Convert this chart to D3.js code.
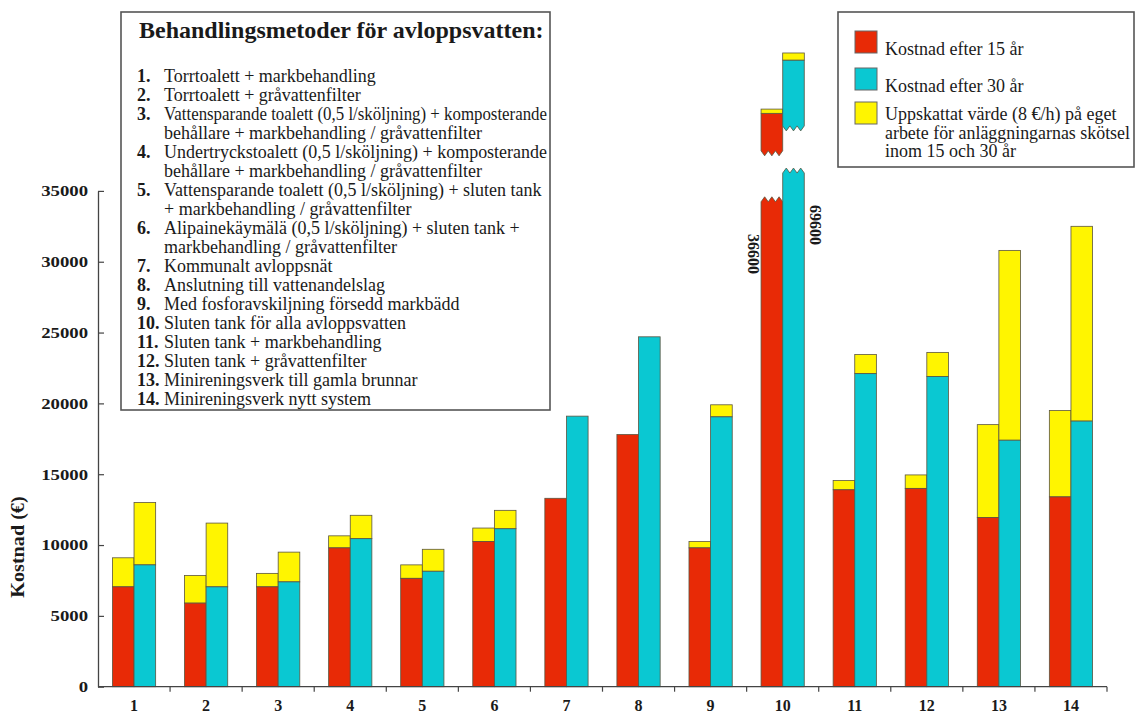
<!DOCTYPE html>
<html><head><meta charset="utf-8">
<script src="https://cdn.jsdelivr.net/npm/d3@7"></script>
<style>
html,body{margin:0;padding:0;background:#fff;}
svg{display:block;}
text{font-family:"Liberation Serif","Times New Roman",serif;fill:#1a1a1a;}
</style></head>
<body>
<svg id="chart" width="1136" height="713"></svg>
<script>
// ---------- data ----------
const categories = ["1","2","3","4","5","6","7","8","9","10","11","12","13","14"];
const cost15 = [7050,5900,7050,9800,7650,10250,13300,17800,9800,36600,13900,14000,11950,13400];
const work15 = [2050,1950,950,850,950,950,0,0,450,300,650,950,6550,6100];
const cost30 = [8600,7050,7400,10450,8150,11150,19100,24700,19050,69600,22100,21900,17400,18750];
const work30 = [4400,4500,2100,1650,1550,1300,0,0,850,500,1350,1700,13400,13750];
const yTicks = [0,5000,10000,15000,20000,25000,30000,35000];
const brokenIndex = 9;
// axis break for category 10, in value units of the y scale
const break15 = {lowerTop:34230, upperSpan:3000, upperTop:40475};
const break30 = {lowerTop:36260, upperSpan:5000, upperTop:44236};
const methodsTitle = "Behandlingsmetoder för avloppsvatten:";
const methods = [
  ["1.","Torrtoalett + markbehandling"],
  ["2.","Torrtoalett + gråvattenfilter"],
  ["3.","Vattensparande toalett (0,5 l/sköljning) + komposterande"],
  ["","behållare + markbehandling / gråvattenfilter"],
  ["4.","Undertryckstoalett (0,5 l/sköljning) + komposterande"],
  ["","behållare + markbehandling / gråvattenfilter"],
  ["5.","Vattensparande toalett (0,5 l/sköljning) + sluten tank"],
  ["","+ markbehandling / gråvattenfilter"],
  ["6.","Alipainekäymälä (0,5 l/sköljning) + sluten tank +"],
  ["","markbehandling / gråvattenfilter"],
  ["7.","Kommunalt avloppsnät"],
  ["8.","Anslutning till vattenandelslag"],
  ["9.","Med fosforavskiljning försedd markbädd"],
  ["10.","Sluten tank för alla avloppsvatten"],
  ["11.","Sluten tank + markbehandling"],
  ["12.","Sluten tank + gråvattenfilter"],
  ["13.","Minireningsverk till gamla brunnar"],
  ["14.","Minireningsverk nytt system"]
];
const seriesLegend = [
  {key:"c15", lines:["Kostnad efter 15 år"]},
  {key:"c30", lines:["Kostnad efter 30 år"]},
  {key:"work", lines:["Uppskattat värde (8 €/h) på eget","arbete för anläggningarnas skötsel","inom 15 och 30 år"]}
];
const yLabel = "Kostnad (€)";

// ---------- styles ----------
const colors = {c15:"#e82a06", c30:"#0ac8d2", work:"#fff500"};
const barStroke = "#5b5540";

const svg = d3.select("#chart");
const x = d3.scaleBand().domain(categories).range([98,1107]).padding(0);
const y = d3.scaleLinear().domain([0,35000]).range([686.7,190.9]);
const bw = x.bandwidth()*0.3;

function stretch(sel,f){
  sel.each(function(){
    const L=this.getComputedTextLength();
    this.setAttribute("textLength",L*f);
    this.setAttribute("lengthAdjust","spacingAndGlyphs");
  });
}
function fitTo(sel,maxW){
  sel.each(function(){
    const L=this.getComputedTextLength();
    if(L>maxW){
      this.setAttribute("textLength",maxW);
      this.setAttribute("lengthAdjust","spacingAndGlyphs");
    }
  });
}

// ---------- bars ----------
const rows = categories.map((c,i)=>({c,i,c15:cost15[i],w15:work15[i],c30:cost30[i],w30:work30[i]}));
const normal = rows.filter(d=>d.i!==brokenIndex);
const g = svg.append("g");

function stackBars(key,wkey,offset,color){
  g.selectAll(null).data(normal.filter(d=>d[wkey]>0)).join("rect")
    .attr("x",d=>x(d.c)+x.bandwidth()/2+offset)
    .attr("width",bw)
    .attr("y",d=>y(d[key]+d[wkey]))
    .attr("height",d=>y(d[key])-y(d[key]+d[wkey]))
    .attr("fill",colors.work).attr("stroke",barStroke).attr("stroke-width",0.8);
  g.selectAll(null).data(normal).join("rect")
    .attr("x",d=>x(d.c)+x.bandwidth()/2+offset)
    .attr("width",bw)
    .attr("y",d=>y(d[key]))
    .attr("height",d=>y(0)-y(d[key]))
    .attr("fill",color).attr("stroke",barStroke).attr("stroke-width",0.8);
}
stackBars("c15","w15",-bw,colors.c15);
stackBars("c30","w30",0,colors.c30);

// broken bar (category 10)
const amp = 5, teeth = 3;
function lowerPiece(x0,w,yTopVal){
  const yb=y(0), yt=y(yTopVal);
  const pts=[[x0,yb],[x0,yt]];
  for(let k=0;k<teeth;k++){
    pts.push([x0+(k+0.5)*w/teeth, yt-amp]);
    pts.push([x0+(k+1)*w/teeth, yt]);
  }
  pts.push([x0+w,yb]);
  return d3.line()(pts)+"Z";
}
function upperPiece(x0,w,topVal,botVal){
  const yt=y(topVal), yb=y(botVal);
  const pts=[[x0,yt],[x0+w,yt],[x0+w,yb-amp]];
  for(let k=0;k<teeth;k++){
    pts.push([x0+w-(k+0.5)*w/teeth, yb]);
    pts.push([x0+w-(k+1)*w/teeth, yb-amp]);
  }
  return d3.line()(pts)+"Z";
}
const b = rows[brokenIndex];
const cx = x(b.c)+x.bandwidth()/2;
[[break15,-bw,colors.c15,b.w15],[break30,0,colors.c30,b.w30]].forEach(([br,off,col,w])=>{
  g.append("path").attr("d",lowerPiece(cx+off,bw,br.lowerTop))
    .attr("fill",col).attr("stroke",barStroke).attr("stroke-width",0.8);
  g.append("path").attr("d",upperPiece(cx+off,bw,br.upperTop,br.upperTop-br.upperSpan))
    .attr("fill",col).attr("stroke",barStroke).attr("stroke-width",0.8);
  g.append("rect").attr("x",cx+off).attr("width",bw)
    .attr("y",y(br.upperTop+w)).attr("height",y(br.upperTop)-y(br.upperTop+w))
    .attr("fill",colors.work).attr("stroke",barStroke).attr("stroke-width",0.8);
});
// value labels for broken bars
[[b.c15,cx-bw-7,30550],[b.c30,cx+bw+11,32600]].forEach(([v,lx,ly])=>{
  svg.append("text").attr("transform",`translate(${lx},${y(ly)}) rotate(90)`)
    .attr("text-anchor","middle").attr("dy","0.35em")
    .attr("font-size",16).attr("font-weight","bold").text(v);
});

// ---------- axes ----------
const ya = svg.append("g").attr("transform","translate(98,0)")
  .call(d3.axisLeft(y).tickValues(yTicks).tickFormat(d3.format("d")).tickSizeInner(-6).tickSizeOuter(0).tickPadding(10));
ya.select(".domain").attr("stroke","#444").attr("stroke-width",1.3);
ya.selectAll(".tick line").attr("stroke","#444").attr("stroke-width",1.2);
ya.selectAll("text").attr("font-family","'Liberation Serif',serif").attr("font-size",15)
  .attr("font-weight","bold").attr("fill","#1a1a1a");
stretch(ya.selectAll("text"),1.25);

const xa = svg.append("g");
xa.append("line").attr("x1",x.range()[0]).attr("x2",x.range()[1]).attr("y1",y(0)).attr("y2",y(0))
  .attr("stroke","#444").attr("stroke-width",1.3);
xa.selectAll(null).data(categories).join("line")
  .attr("x1",d=>x(d)+x.bandwidth()).attr("x2",d=>x(d)+x.bandwidth())
  .attr("y1",y(0)).attr("y2",y(0)+5).attr("stroke","#444").attr("stroke-width",1.2);
xa.selectAll(null).data(categories).join("text")
  .attr("x",d=>x(d)+x.bandwidth()/2).attr("y",710.5)
  .attr("text-anchor","middle").attr("font-size",16).attr("font-weight","bold").text(d=>d);

svg.append("text").attr("transform",`translate(24,${y(10000)+2}) rotate(-90)`)
  .attr("text-anchor","middle").attr("font-size",18).attr("font-weight","bold").text(yLabel)
  .call(s=>stretch(s,1.12));

// ---------- method list box ----------
const mb = svg.append("g");
mb.append("rect").attr("x",121).attr("y",12).attr("width",429).attr("height",398)
  .attr("fill","#fff").attr("stroke","#555").attr("stroke-width",1.6);
mb.append("text").attr("x",139).attr("y",38).attr("font-size",24).attr("font-weight","bold").text(methodsTitle);
const lineH = 19;
methods.forEach((m,i)=>{
  const yy = 82 + i*lineH;
  if(m[0]) mb.append("text").attr("x",137).attr("y",yy).attr("font-size",18).attr("font-weight","bold").text(m[0]);
  mb.append("text").attr("x",164).attr("y",yy).attr("font-size",18).text(m[1]).call(s=>fitTo(s,383));
});

// ---------- series legend ----------
const lg = svg.append("g");
lg.append("rect").attr("x",838).attr("y",12).attr("width",296).attr("height",155)
  .attr("fill","#fff").attr("stroke","#555").attr("stroke-width",1.6);
const swY = [31,68,102];
seriesLegend.forEach((s,i)=>{
  lg.append("rect").attr("x",855).attr("y",swY[i]).attr("width",22).attr("height",22)
    .attr("fill",colors[s.key]).attr("stroke","#666").attr("stroke-width",1);
  s.lines.forEach((t,j)=>{
    lg.append("text").attr("x",885).attr("y",(i===2?120:[55,92][i]) + j*18.5)
      .attr("font-size",18).text(t).call(sel=>fitTo(sel,245));
  });
});
</script>
</body></html>
